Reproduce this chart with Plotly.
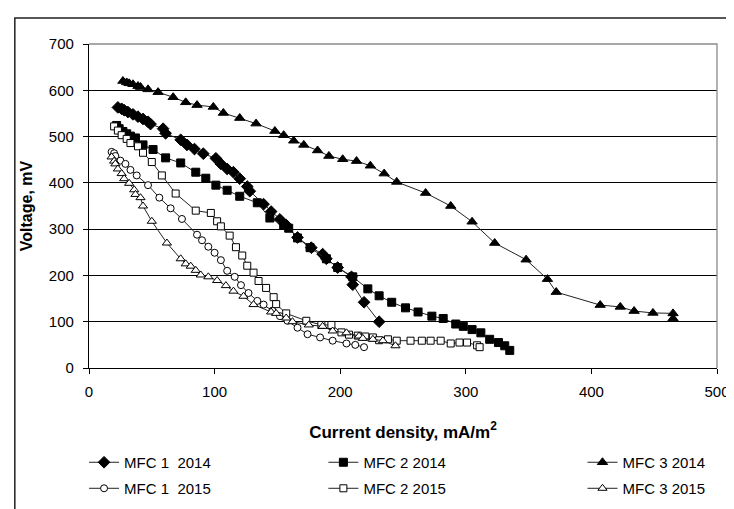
import plotly.graph_objects as go

# ---------------- data ----------------
mfc1_2014_x = [23, 26, 28, 31, 35, 39, 43, 47, 49, 59, 61, 73, 78, 84, 91, 101, 105, 110, 115, 120,
               126, 128, 139, 145, 152, 157, 166, 177, 186, 189, 198, 209, 210, 219, 231]
mfc1_2014_y = [563, 560, 557, 553, 548, 543, 538, 532, 527, 517, 507, 493, 482, 473, 463, 453, 441, 430, 423, 409,
               392, 382, 354, 338, 321, 309, 282, 260, 246, 236, 217, 197, 180, 142, 100]

mfc2_2014_x = [22, 24, 27, 30, 33, 37, 43, 51, 61, 73, 85, 93, 101, 110, 120, 134, 144, 155, 159, 166,
               176, 189, 198, 210, 222, 231, 241, 252, 262, 273, 282, 292, 298, 305, 312, 319, 326, 331, 335]
mfc2_2014_y = [524, 517, 511, 506, 501, 497, 482, 472, 454, 443, 423, 410, 395, 384, 371, 357, 324, 309, 302, 281,
               260, 236, 217, 197, 171, 156, 142, 130, 121, 112, 107, 95, 90, 83, 76, 62, 55, 48, 38]

mfc3_2014_x = [27, 30, 32, 35, 39, 41, 47, 55, 67, 77, 86, 99, 107, 120, 133, 148, 155, 163, 171, 182,
               191, 202, 213, 224, 235, 245, 268, 288, 305, 323, 348, 365, 372, 407, 423, 434, 449, 465, 465]
mfc3_2014_y = [620, 617, 615, 613, 609, 607, 602, 596, 585, 574, 568, 564, 551, 540, 528, 512, 503, 491, 482, 470,
               458, 451, 447, 437, 420, 402, 378, 350, 316, 270, 234, 192, 164, 136, 132, 123, 119, 118, 107]

mfc1_2015_x = [18, 20, 21, 25, 29, 33, 38, 47, 56, 65, 74, 86, 90, 95, 100, 105, 110, 116, 121, 127,
               134, 139, 146, 152, 158, 166, 174, 184, 194, 205, 212, 219]
mfc1_2015_y = [467, 464, 458, 448, 441, 428, 416, 395, 368, 345, 322, 288, 276, 262, 249, 233, 210, 197, 179, 162,
               145, 137, 124, 112, 102, 87, 73, 66, 59, 53, 50, 45]

mfc2_2015_x = [20, 23, 26, 30, 33, 39, 43, 50, 58, 69, 85, 97, 102, 105, 112, 117, 122, 126, 131, 135,
               141, 147, 149, 157, 173, 185, 193, 201, 207, 214, 220, 226, 231, 238, 245, 256, 265, 272,
               280, 288, 295, 301, 309, 311]
mfc2_2015_y = [522, 513, 503, 495, 486, 479, 465, 445, 416, 377, 340, 335, 317, 306, 286, 261, 243, 221, 206, 188,
               173, 153, 138, 118, 102, 93, 93, 77, 72, 70, 68, 66, 60, 62, 59, 59, 59, 59,
               59, 53, 55, 55, 49, 45]

mfc3_2015_x = [18, 20, 21, 23, 26, 28, 32, 36, 37, 41, 43, 50, 62, 73, 77, 81, 85, 89, 95, 102,
               109, 115, 123, 131, 145, 149, 157, 162, 175, 186, 194, 205, 215, 218, 226, 234, 244]
mfc3_2015_y = [456, 447, 441, 430, 420, 409, 399, 385, 375, 368, 350, 317, 270, 236, 225, 220, 211, 201, 197, 189,
               178, 166, 155, 137, 121, 118, 108, 100, 93, 90, 80, 76, 69, 64, 62, 59, 48]

series_names = ["MFC 1  2014", "MFC 2 2014", "MFC 3 2014", "MFC 1  2015", "MFC 2 2015", "MFC 3 2015"]
x_ticks = [0, 100, 200, 300, 400, 500]
y_ticks = [0, 100, 200, 300, 400, 500, 600, 700]

# ---------------- layout geometry ----------------
W, H = 734, 509
L, R, T, B = 81, 18, 36, 137
PW, PH = W - L - R, H - T - B


def pxx(p):
    return (p - L) / PW


def pxy(p):
    return (H - B - p) / PH


FONT = "Liberation Sans, Arial, sans-serif"

fig = go.Figure()

styles = [
    (mfc1_2014_x, mfc1_2014_y, "diamond", "black", 9),
    (mfc2_2014_x, mfc2_2014_y, "square", "black", 8),
    (mfc3_2014_x, mfc3_2014_y, "triangle-up", "black", 9),
    (mfc1_2015_x, mfc1_2015_y, "circle", "white", 7),
    (mfc2_2015_x, mfc2_2015_y, "square", "white", 7),
    (mfc3_2015_x, mfc3_2015_y, "triangle-up", "white", 8),
]
legend_ids = ["legend", "legend2", "legend3", "legend4", "legend5", "legend6"]

for (xs, ys, sym, fill, size), name, lg in zip(styles, series_names, legend_ids):
    fig.add_trace(go.Scatter(
        x=xs, y=ys, name=name, mode="lines+markers",
        line=dict(color="#222222", width=1),
        marker=dict(symbol=sym, size=size, color=fill, line=dict(color="black", width=1)),
        legend=lg,
    ))

# legend positions (pixel positions of the left end of each legend box)
col_px = [76, 318, 580]
row_py = [470, 497]
legend_layout = {}
for i, lg in enumerate(legend_ids):
    c, r = i % 3, i // 3
    legend_layout[lg] = dict(
        x=pxx(col_px[c]), y=pxy(row_py[r]), xanchor="left", yanchor="middle",
        bgcolor="rgba(0,0,0,0)", borderwidth=0, orientation="v",
        font=dict(family=FONT, size=15, color="black"),
    )

fig.update_layout(
    width=W, height=H,
    margin=dict(l=L, r=R, t=T, b=B),
    paper_bgcolor="white", plot_bgcolor="white",
    showlegend=True,
    font=dict(family=FONT, size=15, color="black"),
    **legend_layout,
)

fig.update_xaxes(
    range=[0, 500], tickvals=x_ticks, ticktext=[str(v) for v in x_ticks],
    showgrid=False, zeroline=False,
    showline=True, linecolor="black", linewidth=1.3,
    ticks="outside", ticklen=5, tickcolor="black", tickwidth=1.3,
    ticklabelstandoff=5,
    tickfont=dict(family=FONT, size=15, color="black"),
    title=dict(text="<b>Current density, mA/m<sup>2</sup></b>",
               font=dict(family=FONT, size=17, color="black"), standoff=26),
)
fig.update_yaxes(
    range=[0, 700], tickvals=y_ticks, ticktext=[str(v) for v in y_ticks],
    showgrid=True, gridcolor="black", gridwidth=1.3, zeroline=False,
    showline=True, linecolor="black", linewidth=1.3,
    ticks="outside", ticklen=5, tickcolor="black", tickwidth=1.3,
    ticklabelstandoff=6,
    tickfont=dict(family=FONT, size=15, color="black"),
    title=dict(text="<b>Voltage, mV</b>",
               font=dict(family=FONT, size=16, color="black"), standoff=12),
)

# gray plot-area border (top and right), and outer chart frame
fig.add_shape(type="path", xref="paper", yref="paper",
              path="M 0,1 L 1,1 L 1,0", line=dict(color="#8a8a8a", width=1.3), layer="above")
fig.add_shape(type="path", xref="paper", yref="paper",
              path=f"M {pxx(6)},{pxy(530)} L {pxx(6)},{pxy(9)} L {pxx(760)},{pxy(9)}",
              line=dict(color="#222222", width=1.5), layer="above")

fig.write_html("out.html")
